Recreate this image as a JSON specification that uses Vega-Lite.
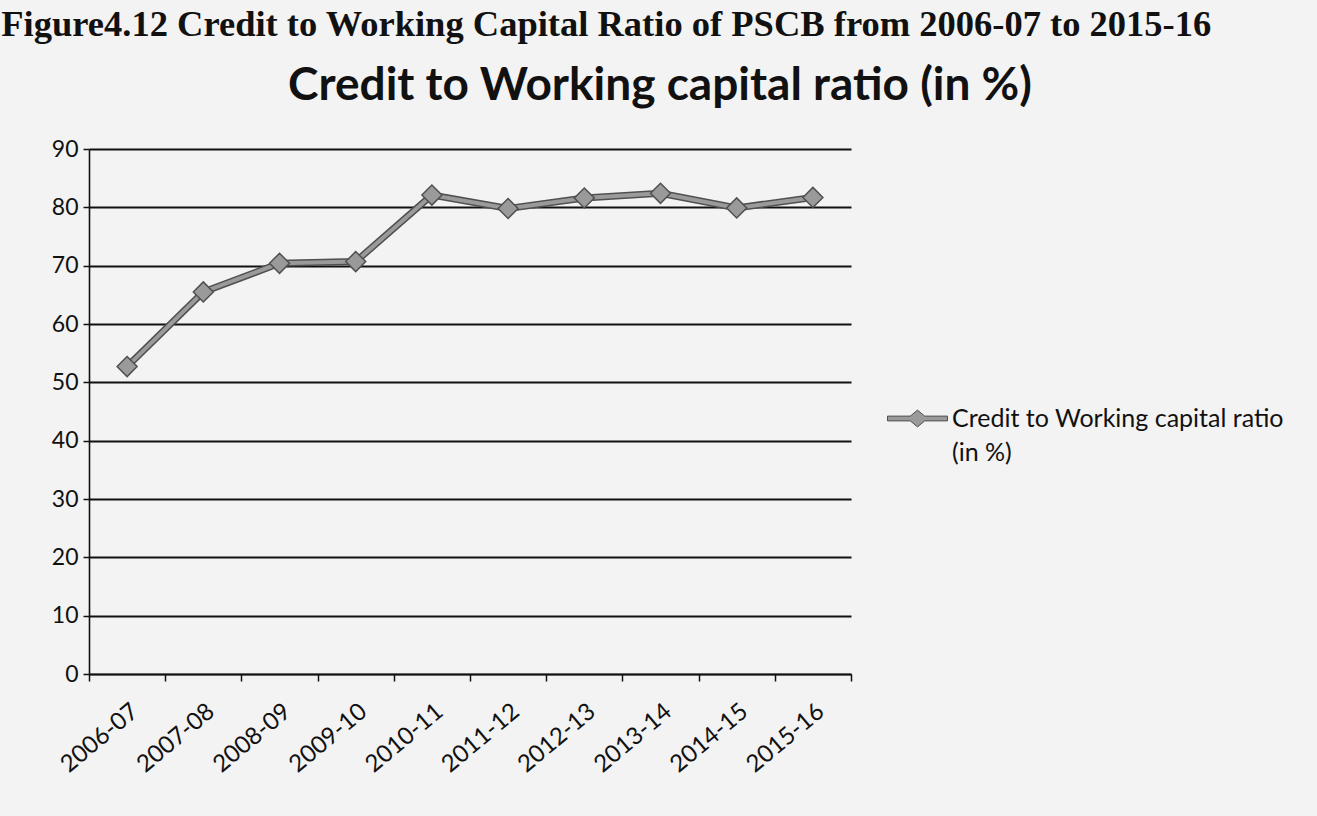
{
  "$schema": "https://vega.github.io/schema/vega-lite/v6.json",
  "background": "#f3f3f3",
  "padding": {"left": 1, "top": 6, "right": 34, "bottom": 42},
  "title": {
    "text": "Figure4.12 Credit to Working Capital Ratio of PSCB from 2006-07 to 2015-16",
    "anchor": "start",
    "font": "Liberation Serif",
    "fontSize": 36.5,
    "fontWeight": "bold",
    "color": "#111111",
    "dx": -50,
    "offset": 20
  },
  "config": {"view": {"stroke": null}, "concat": {"spacing": 0}},
  "vconcat": [
    {
      "width": 762,
      "height": 525,
      "title": {
        "text": "Credit to Working capital ratio (in %)",
        "anchor": "middle",
        "font": "Lato",
        "fontSize": 46,
        "fontWeight": "bold",
        "color": "#111111",
        "dx": 190,
        "offset": 28
      },
      "data": {
        "values": [
          {"year": "2006-07", "value": 52.7, "series": "Credit to Working capital ratio (in %)"},
          {"year": "2007-08", "value": 65.5, "series": "Credit to Working capital ratio (in %)"},
          {"year": "2008-09", "value": 70.4, "series": "Credit to Working capital ratio (in %)"},
          {"year": "2009-10", "value": 70.7, "series": "Credit to Working capital ratio (in %)"},
          {"year": "2010-11", "value": 82.1, "series": "Credit to Working capital ratio (in %)"},
          {"year": "2011-12", "value": 79.8, "series": "Credit to Working capital ratio (in %)"},
          {"year": "2012-13", "value": 81.6, "series": "Credit to Working capital ratio (in %)"},
          {"year": "2013-14", "value": 82.4, "series": "Credit to Working capital ratio (in %)"},
          {"year": "2014-15", "value": 79.9, "series": "Credit to Working capital ratio (in %)"},
          {"year": "2015-16", "value": 81.7, "series": "Credit to Working capital ratio (in %)"}
        ]
      },
      "encoding": {
        "x": {
          "field": "year",
          "type": "ordinal",
          "sort": null,
          "scale": {"type": "band", "paddingInner": 0, "paddingOuter": 0},
          "axis": {
            "title": null,
            "labelAngle": -40,
            "labelFont": "Lato",
            "labelFontSize": 24,
            "labelColor": "#111111",
            "labelPadding": 18,
            "tickBand": "extent",
            "tickSize": 7,
            "tickColor": "#111111",
            "tickWidth": 1.5,
            "domainColor": "#111111",
            "domainWidth": 1.6,
            "grid": false
          }
        },
        "y": {
          "field": "value",
          "type": "quantitative",
          "scale": {"domain": [0, 90], "nice": false},
          "axis": {
            "title": null,
            "values": [0, 10, 20, 30, 40, 50, 60, 70, 80, 90],
            "labelFont": "Lato",
            "labelFontSize": 23,
            "labelColor": "#111111",
            "labelPadding": 5,
            "tickSize": 6,
            "tickColor": "#111111",
            "tickWidth": 1.5,
            "domainColor": "#111111",
            "domainWidth": 1.6,
            "grid": true,
            "gridColor": "#111111",
            "gridWidth": 1.8
          }
        }
      },
      "layer": [
        {"mark": {"type": "line", "stroke": "#505050", "strokeWidth": 7}},
        {"mark": {"type": "line", "stroke": "#9a9a9a", "strokeWidth": 4}},
        {
          "mark": {"type": "point", "shape": "diamond", "size": 400, "filled": true, "stroke": "#505050", "strokeWidth": 1.5, "opacity": 1},
          "encoding": {
            "fill": {
              "field": "series",
              "type": "nominal",
              "scale": {"range": ["#9a9a9a"]},
              "legend": {
                "title": null,
                "orient": "none",
                "legendX": 798,
                "legendY": 239,
                "labelFont": "Lato",
                "labelFontSize": 25,
                "labelColor": "#111111",
                "labelExpr": "['Credit to Working capital ratio', '(in %)']",
                "labelLimit": 500,
                "labelOffset": 4,
                "labelBaseline": "middle",
                "symbolType": "M-1,-0.08L-0.24,-0.08L0,-0.28L0.24,-0.08L1,-0.08L1,0.08L0.24,0.08L0,0.28L-0.24,0.08L-1,0.08Z",
                "symbolSize": 3600,
                "symbolStrokeColor": "#505050",
                "symbolStrokeWidth": 1,
                "symbolOpacity": 1,
                "encode": {
                  "labels": {
                    "update": {
                      "lineHeight": {"value": 34},
                      "baseline": {"value": "top"},
                      "dy": {"value": -12}
                    }
                  }
                }
              }
            }
          }
        }
      ]
    }
  ]
}
